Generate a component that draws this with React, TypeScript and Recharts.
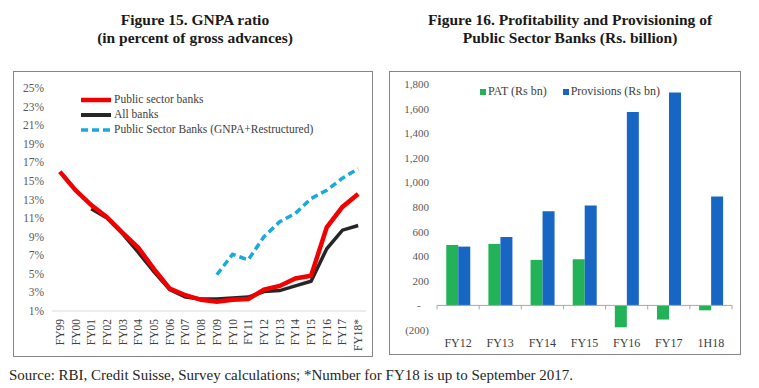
import React from "react";
import { LineChart, Line, BarChart, Bar, XAxis, YAxis, Legend, ReferenceLine } from "recharts";

const SERIF = "'Liberation Serif', 'Times New Roman', serif";

// Figure 15 - GNPA ratio (% of gross advances)
const years = [
  "FY99", "FY00", "FY01", "FY02", "FY03", "FY04", "FY05", "FY06", "FY07", "FY08",
  "FY09", "FY10", "FY11", "FY12", "FY13", "FY14", "FY15", "FY16", "FY17", "FY18*",
];
const psbGnpa = [16.0, 14.0, 12.4, 11.1, 9.4, 7.8, 5.5, 3.4, 2.7, 2.2, 2.0, 2.2, 2.3, 3.3, 3.7, 4.5, 4.8, 10.0, 12.2, 13.6];
const allBanksGnpa = [null, null, 12.0, 11.0, 9.3, 7.3, 5.2, 3.3, 2.5, 2.3, 2.3, 2.4, 2.5, 3.1, 3.2, 3.7, 4.2, 7.7, 9.7, 10.2];
const psbRestructured = [null, null, null, null, null, null, null, null, null, null, 4.9, 7.1, 6.5, 9.0, 10.6, 11.5, 13.1, 14.0, 15.3, 16.3];
const pctTicks = [1, 3, 5, 7, 9, 11, 13, 15, 17, 19, 21, 23, 25];

// Figure 16 - PAT and provisions of PSBs (Rs bn)
const periods = ["FY12", "FY13", "FY14", "FY15", "FY16", "FY17", "1H18"];
const pat = [491, 500, 370, 375, -178, -115, -40];
const provisions = [478, 556, 766, 812, 1572, 1730, 886];
const rsTicks = [-200, 0, 200, 400, 600, 800, 1000, 1200, 1400, 1600, 1800];

const gnpaData = years.map((year, i) => ({
  year,
  psb: psbGnpa[i],
  all: allBanksGnpa[i],
  restr: psbRestructured[i],
}));

const profitData = periods.map((period, i) => ({
  period,
  pat: pat[i],
  provisions: provisions[i],
}));

const RED = "#F20000";
const BLACK = "#262626";
const CYAN = "#1AA8DE";
const GREEN = "#22B257";
const BLUE = "#1866C4";

const gnpaLegendItems = [
  { label: "Public sector banks", color: RED, width: 4.5, dash: undefined },
  { label: "All banks", color: BLACK, width: 4, dash: undefined },
  { label: "Public Sector Banks (GNPA+Restructured)", color: CYAN, width: 3.5, dash: "7 4" },
];

const GnpaLegend = () => (
  <div style={{ fontFamily: SERIF, fontSize: 11.5, color: "#404040", lineHeight: "15px" }}>
    {gnpaLegendItems.map((it) => (
      <div key={it.label} style={{ display: "flex", alignItems: "center", whiteSpace: "nowrap" }}>
        <svg width={32} height={8}>
          <line x1={1} y1={4} x2={31} y2={4} stroke={it.color} strokeWidth={it.width} strokeDasharray={it.dash} />
        </svg>
        <span style={{ marginLeft: 2 }}>{it.label}</span>
      </div>
    ))}
  </div>
);

const profitLegendItems = [
  { label: "PAT (Rs bn)", color: GREEN },
  { label: "Provisions (Rs bn)", color: BLUE },
];

const ProfitLegend = () => (
  <div style={{ display: "flex", fontFamily: SERIF, fontSize: 12, color: "#404040", whiteSpace: "nowrap" }}>
    {profitLegendItems.map((it, i) => (
      <div key={it.label} style={{ display: "flex", alignItems: "center", marginLeft: i ? 16 : 0 }}>
        <span style={{ width: 6, height: 6, background: it.color, display: "inline-block", marginRight: 2 }} />
        <span>{it.label}</span>
      </div>
    ))}
  </div>
);

const RotatedTick = (props: any) => {
  const { x, y, payload } = props;
  return (
    <text
      x={x}
      y={y}
      transform={`rotate(-90, ${x}, ${y})`}
      textAnchor="end"
      dominantBaseline="central"
      fontSize={11.5}
      fontFamily={SERIF}
      fill="#404040"
    >
      {payload.value}
    </text>
  );
};

// zero line with small ticks at the category boundaries
const ZeroAxis = (props: any) => {
  const { x1, y1, x2 } = props;
  const step = (x2 - x1) / periods.length;
  return (
    <g>
      <line x1={x1} y1={y1} x2={x2} y2={y1} stroke="#a6a6a6" strokeWidth={1} />
      {periods.concat([""]).map((_, k) => (
        <line key={k} x1={x1 + k * step} x2={x1 + k * step} y1={y1} y2={y1 + 4} stroke="#a6a6a6" />
      ))}
    </g>
  );
};

const fmtRs = (v: number) => {
  if (v === 0) return "-\u00a0\u00a0\u00a0";
  if (v < 0) return `(${Math.abs(v)})`;
  return v.toLocaleString("en-US");
};

const boxStyle: React.CSSProperties = {
  position: "absolute",
  border: "1px solid #858585",
  background: "#fff",
};

const titleStyle: React.CSSProperties = {
  position: "absolute",
  fontFamily: SERIF,
  fontWeight: "bold",
  fontSize: 15.5,
  lineHeight: "18px",
  textAlign: "center",
  color: "#1a1a1a",
  whiteSpace: "nowrap",
};

export default function App() {
  return (
    <div style={{ position: "absolute", left: 0, top: 0, width: 759, height: 388, background: "#fff", overflow: "hidden" }}>
      <div style={{ ...titleStyle, left: 45, width: 300, top: 11 }}>
        Figure 15. GNPA ratio
        <br />
        (in percent of gross advances)
      </div>
      <div style={{ ...titleStyle, left: 420, width: 300, top: 11 }}>
        Figure 16. Profitability and Provisioning of
        <br />
        Public Sector Banks (Rs. billion)
      </div>

      <div style={{ ...boxStyle, left: 13, top: 71, width: 358, height: 284 }}>
        <LineChart width={358} height={284} data={gnpaData} margin={{ top: 16, right: 6, bottom: 5, left: 0 }}>
          <XAxis
            dataKey="year"
            scale="band"
            interval={0}
            height={40}
            tickLine={false}
            axisLine={{ stroke: "#d9d9d9" }}
            tick={<RotatedTick />}
          />
          <YAxis
            domain={[1, 25]}
            ticks={pctTicks}
            width={38}
            axisLine={false}
            tickLine={false}
            tickFormatter={(v: number) => `${v}%`}
            tick={{ fontSize: 11.5, fontFamily: SERIF, fill: "#595959" }}
          />
          <Legend
            layout="vertical"
            align="center"
            verticalAlign="middle"
            wrapperStyle={{ left: 66, top: 20, width: "auto", height: "auto" }}
            content={<GnpaLegend />}
          />
          <Line dataKey="restr" stroke={CYAN} strokeWidth={3.5} strokeDasharray="7 4" dot={false} isAnimationActive={false} />
          <Line dataKey="all" stroke={BLACK} strokeWidth={3.5} dot={false} isAnimationActive={false} />
          <Line dataKey="psb" stroke={RED} strokeWidth={4.5} dot={false} isAnimationActive={false} />
        </LineChart>
      </div>

      <div style={{ ...boxStyle, left: 389, top: 71, width: 350, height: 282 }}>
        <BarChart
          width={350}
          height={282}
          data={profitData}
          margin={{ top: 12, right: 8, bottom: 0, left: 0 }}
          barCategoryGap="22%"
          barGap={0}
        >
          <XAxis
            dataKey="period"
            height={24}
            axisLine={false}
            tickLine={false}
            tick={{ fontSize: 12, fontFamily: SERIF, fill: "#404040" }}
          />
          <YAxis
            domain={[-200, 1800]}
            ticks={rsTicks}
            width={47}
            axisLine={false}
            tickLine={false}
            tickFormatter={fmtRs}
            tick={{ fontSize: 11, fontFamily: SERIF, fill: "#595959" }}
          />
          <Legend
            layout="vertical"
            align="center"
            verticalAlign="middle"
            wrapperStyle={{ left: 90, top: 12, width: "auto", height: "auto" }}
            content={<ProfitLegend />}
          />
          <Bar dataKey="pat" fill={GREEN} isAnimationActive={false} />
          <Bar dataKey="provisions" fill={BLUE} isAnimationActive={false} />
          <ReferenceLine y={0} shape={<ZeroAxis />} />
        </BarChart>
      </div>

      <div
        style={{
          position: "absolute",
          left: 9,
          top: 367,
          fontFamily: SERIF,
          fontSize: 15,
          color: "#262626",
          whiteSpace: "nowrap",
        }}
      >
        Source: RBI, Credit Suisse, Survey calculations; *Number for FY18 is up to September 2017.
      </div>
    </div>
  );
}
